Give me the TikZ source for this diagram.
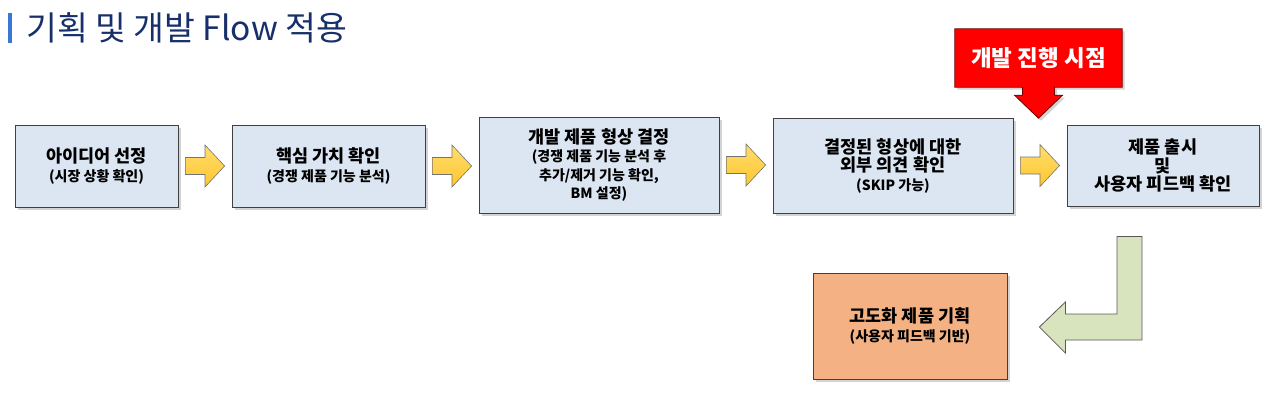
\documentclass[tikz,border=0pt]{standalone}
\usepackage{fontspec}
\setmainfont{Noto Sans CJK KR}
\usetikzlibrary{calc,shadows,backgrounds}
\definecolor{boxblue}{HTML}{DCE6F2}
\definecolor{yellowtop}{HTML}{FFDD6E}
\definecolor{yellowbot}{HTML}{FFC62E}
\definecolor{calloutred}{HTML}{FF0000}
\definecolor{bendgreen}{HTML}{D7E4BD}
\definecolor{planorange}{HTML}{F4B183}
\definecolor{titlenavy}{HTML}{172F6A}
\definecolor{barblue}{HTML}{3A78D6}
\newcommand{\mainsize}{\fontsize{17.5}{19}\selectfont}
\newcommand{\subsize}{\fontsize{14}{19}\selectfont}
\newcommand{\nl}{\\[-0.5pt]}
\newcommand{\flowArrow}[2]{
    \coordinate (fa-s) at ($(#1.east)+(7,0)$);
    \coordinate (fa-t) at ($(#2.west)+(-7,0)$);
    \coordinate (fa-t) at (fa-t |- fa-s);
    \coordinate (fa-m) at ($(fa-s)!0.5!(fa-t)$);
    \path[flow arrow] ($(fa-s)+(0,-8.5)$) -- ($(fa-m)+(0,-8.5)$) -- ($(fa-m)+(0,-21)$)
        -- (fa-t) -- ($(fa-m)+(0,21)$) -- ($(fa-m)+(0,8.5)$) -- ($(fa-s)+(0,8.5)$) -- cycle;
}
\begin{document}
\begin{tikzpicture}[
    x=1pt, y=-1pt,
    % box styles
    flow box/.style={draw=black!75, line width=0.8pt, fill=boxblue, align=center,
        font=\bfseries\mainsize, inner sep=0pt,
        drop shadow={shadow xshift=2.5pt, shadow yshift=-2.5pt, opacity=0.35}},
    plan box/.style={flow box, fill=planorange},
    callout text/.style={text=white, font=\bfseries\fontsize{22.5}{26}\selectfont, inner sep=0pt},
    % arrow styles
    flow arrow/.style={draw=black!55, line width=0.6pt, top color=yellowtop, bottom color=yellowbot},
    callout shape/.style={draw=red!45!black, line width=0.8pt, fill=calloutred,
        drop shadow={shadow xshift=2.5pt, shadow yshift=-2.5pt, opacity=0.35}},
    bend arrow/.style={draw=black!65, line width=0.8pt, fill=bendgreen}
]
\useasboundingbox (0,0) rectangle (1280,392);

% Title
\fill[barblue] (8,13) rectangle (12,43);
\node[anchor=west, text=titlenavy, font=\fontsize{33.5}{38}\selectfont, inner sep=0pt] (title) at (26,28) {기획 및 개발 Flow 적용};

% Flow boxes
\node[flow box, minimum width=163, minimum height=82] (b1) at (96.5,166) {아이디어 선정\nl{\subsize (시장 상황 확인)}};
\node[flow box, minimum width=193, minimum height=82] (b2) at (328.5,166) {핵심 가치 확인\nl{\subsize (경쟁 제품 기능 분석)}};
\node[flow box, minimum width=240, minimum height=96] (b3) at (599,165) {개발 제품 형상 결정\nl{\subsize (경쟁 제품 기능 분석 후}\nl{\subsize 추가/제거 기능 확인,}\nl{\subsize BM 설정)}};
\node[flow box, minimum width=240, minimum height=95] (b4) at (893,165.5) {결정된 형상에 대한\nl 외부 의견 확인\nl{\subsize (SKIP 가능)}};
\node[flow box, minimum width=192, minimum height=81] (b5) at (1163,165.5) {제품 출시\nl 및\nl 사용자 피드백 확인};
\node[plan box, minimum width=194, minimum height=106] (plan) at (910,326) {고도화 제품 기획\nl{\subsize (사용자 피드백 기반)}};

% Yellow arrows
\flowArrow{b1}{b2}
\flowArrow{b2}{b3}
\flowArrow{b3}{b4}
\flowArrow{b4}{b5}

% Callout
\node[callout text, minimum width=167, minimum height=58] (callout) at (1038.5,58) {개발 진행 시점};
\begin{scope}[on background layer]
    \path[callout shape] (callout.north west) -- (callout.north east) -- (callout.south east)
        -- ($(callout.south)+(16,0)$) -- ($(callout.south)+(16,8)$) -- ($(callout.south)+(24,8)$)
        -- ($(callout.south)+(0,31)$) -- ($(callout.south)+(-24,8)$) -- ($(callout.south)+(-16,8)$)
        -- ($(callout.south)+(-16,0)$) -- (callout.south west) -- cycle;
\end{scope}

% Bent arrow back to planning
\coordinate (g-top) at ($(b5.south)+(-33.5,30)$);
\coordinate (g-tip) at ($(plan.east)+(32,1)$);
\coordinate (g-corner) at (g-top |- g-tip);
\path[bend arrow] ($(g-top)+(-12.5,0)$) -- ($(g-top)+(12.5,0)$) -- ($(g-corner)+(12.5,13)$)
    -- ($(g-tip)+(26,13)$) -- ($(g-tip)+(26,26)$) -- (g-tip) -- ($(g-tip)+(26,-25)$)
    -- ($(g-tip)+(26,-13)$) -- ($(g-corner)+(-12.5,-13)$) -- cycle;

\end{tikzpicture}
\end{document}
